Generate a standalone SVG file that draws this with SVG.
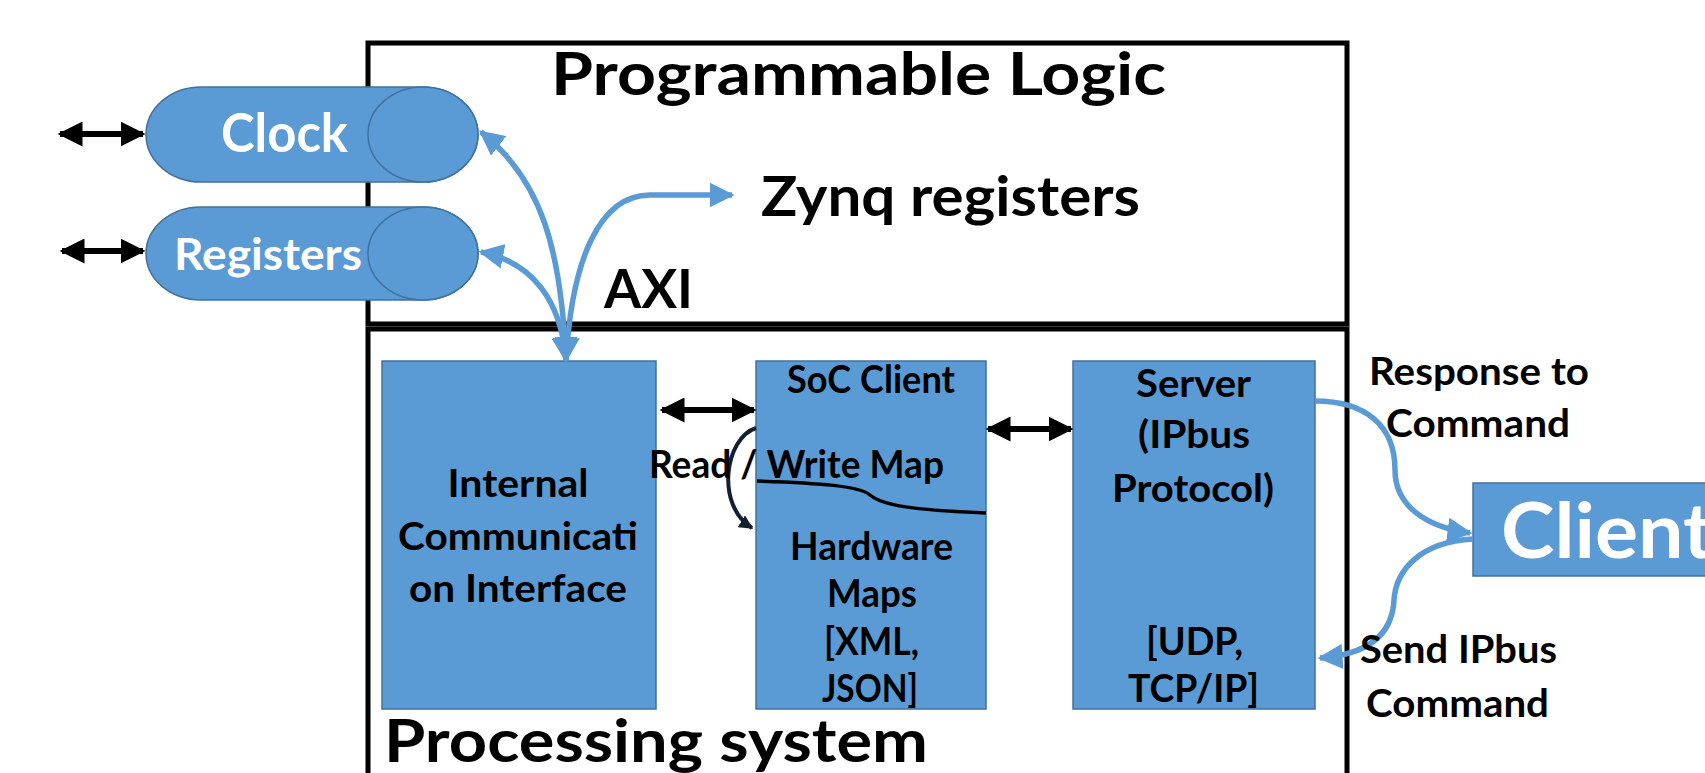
<svg xmlns="http://www.w3.org/2000/svg" width="1705" height="773" viewBox="0 0 1705 773">
<style>
text { font-family: Lato, "Open Sans", "Liberation Sans", sans-serif; font-weight: 700; fill: #000; }
text.w { fill: #fff; }
.m { text-anchor: middle; }
.t39 { font-size: 39px; }
.box { fill: #5B9BD5; stroke: #41719C; stroke-width: 1.5; }
.frame { fill: none; stroke: #000; stroke-width: 5; }
.blue { fill: none; stroke: #5B9BD5; stroke-width: 5.5; }
.barr { fill: none; stroke: #000; stroke-width: 6; }
.dark { fill: none; stroke: #15202e; stroke-width: 4; }
.sep { fill: none; stroke: #000; stroke-width: 3.5; }
</style>
<defs>
<marker id="hb" viewBox="0 0 10 10" refX="9" refY="5" markerWidth="25" markerHeight="25" markerUnits="userSpaceOnUse" orient="auto-start-reverse"><path d="M0,0 L10,5 L0,10 Z" fill="#000"/></marker>
<marker id="hl" viewBox="0 0 10 10" refX="9" refY="5" markerWidth="25" markerHeight="25" markerUnits="userSpaceOnUse" orient="auto-start-reverse"><path d="M0,0 L10,5 L0,10 Z" fill="#5B9BD5"/></marker>
<marker id="hd" viewBox="0 0 10 10" refX="9" refY="5" markerWidth="14" markerHeight="14" markerUnits="userSpaceOnUse" orient="auto"><path d="M0,0 L10,5 L0,10 Z" fill="#15202e"/></marker>
</defs>

<g id="programmable-logic">
<rect class="frame" x="368" y="43" width="979" height="281"/>
<text x="858.5" y="95" class="m" font-size="60" textLength="615" lengthAdjust="spacingAndGlyphs">Programmable Logic</text>
<text x="761" y="216" font-size="55" textLength="379" lengthAdjust="spacingAndGlyphs">Zynq registers</text>
<text x="604" y="308" font-size="53" textLength="89" lengthAdjust="spacingAndGlyphs">AXI</text>
</g>

<g id="processing-system">
<rect class="frame" x="368" y="329" width="979" height="480"/>
<text x="384" y="762" font-size="60" textLength="544" lengthAdjust="spacingAndGlyphs">Processing system</text>
</g>

<g id="clock">
<path class="box" d="M201,87 H423 A55,47.5 0 0 1 423,182 H201 A55,47.5 0 0 1 201,87 Z"/>
<ellipse class="box" cx="423" cy="134.5" rx="55" ry="47.5"/>
<text x="284.5" y="152" class="m w" font-size="53" textLength="127" lengthAdjust="spacingAndGlyphs">Clock</text>
</g>

<g id="registers">
<path class="box" d="M201,207 H423 A55,46.5 0 0 1 423,300 H201 A55,46.5 0 0 1 201,207 Z"/>
<ellipse class="box" cx="423" cy="253.5" rx="55" ry="46.5"/>
<text x="268" y="270" class="m w" font-size="44" textLength="188" lengthAdjust="spacingAndGlyphs">Registers</text>
</g>

<g id="internal-communication-interface">
<rect class="box" x="382" y="361" width="274" height="348"/>
<text x="518" y="497" class="m t39" textLength="141" lengthAdjust="spacingAndGlyphs">Internal</text>
<text x="518" y="550" class="m t39" textLength="240" lengthAdjust="spacingAndGlyphs">Communicati</text>
<text x="518" y="602" class="m t39" textLength="218" lengthAdjust="spacingAndGlyphs">on Interface</text>
</g>

<g id="soc-client">
<rect class="box" x="756" y="361" width="230" height="348"/>
<text x="871" y="393" class="m t39" textLength="168" lengthAdjust="spacingAndGlyphs">SoC Client</text>
<path class="sep" d="M757,481 C820,483 860,486 870,495 C882,505 910,510 986,513"/>
<text x="871.5" y="560" class="m t39" textLength="163" lengthAdjust="spacingAndGlyphs">Hardware</text>
<text x="872" y="607" class="m t39" textLength="90" lengthAdjust="spacingAndGlyphs">Maps</text>
<text x="871.5" y="655" class="m t39" textLength="95" lengthAdjust="spacingAndGlyphs">[XML,</text>
<text x="870" y="702" class="m t39" textLength="96" lengthAdjust="spacingAndGlyphs">JSON]</text>
</g>

<g id="server">
<rect class="box" x="1073" y="361" width="242" height="348"/>
<text x="1193.5" y="397" class="m t39" textLength="115" lengthAdjust="spacingAndGlyphs">Server</text>
<text x="1194" y="448" class="m t39" textLength="112" lengthAdjust="spacingAndGlyphs">(IPbus</text>
<text x="1193" y="502" class="m t39" textLength="162" lengthAdjust="spacingAndGlyphs">Protocol)</text>
<text x="1194.5" y="655" class="m t39" textLength="97" lengthAdjust="spacingAndGlyphs">[UDP,</text>
<text x="1193.5" y="702" class="m t39" textLength="131" lengthAdjust="spacingAndGlyphs">TCP/IP]</text>
</g>

<g id="client">
<rect class="box" x="1473" y="483" width="260" height="93"/>
<text x="1501" y="558" class="w" font-size="76" textLength="212" lengthAdjust="spacingAndGlyphs">Client</text>
</g>

<g id="connectors">
<line class="barr" x1="60" y1="134" x2="143" y2="134" marker-start="url(#hb)" marker-end="url(#hb)"/>
<line class="barr" x1="62" y1="251" x2="143" y2="251" marker-start="url(#hb)" marker-end="url(#hb)"/>
<line class="barr" x1="662" y1="410" x2="754" y2="410" marker-start="url(#hb)" marker-end="url(#hb)"/>
<line class="barr" x1="988" y1="429" x2="1071" y2="429" marker-start="url(#hb)" marker-end="url(#hb)"/>
<path class="blue" d="M566,360 C561,250 542,180 481,132" marker-start="url(#hl)" marker-end="url(#hl)"/>
<path class="blue" d="M566,360 C561,300 532,262 481,252" marker-start="url(#hl)" marker-end="url(#hl)"/>
<path class="blue" d="M566,360 C572,258 600,195 650,195 L732,195" marker-start="url(#hl)" marker-end="url(#hl)"/>
<path class="blue" d="M1315,401 C1365,401 1395,425 1395,470 C1395,505 1425,527 1470,533" marker-end="url(#hl)"/>
<path class="blue" d="M1473,539 C1420,542 1396,570 1394,600 C1392,640 1360,655 1320,658" marker-end="url(#hl)"/>
<path class="dark" d="M756,428 C725,438 715,505 752,528" marker-end="url(#hd)"/>
<text x="796.5" y="478" class="m t39" textLength="295" lengthAdjust="spacingAndGlyphs">Read / Write Map</text>
<text x="1479" y="385" class="m t39" textLength="220" lengthAdjust="spacingAndGlyphs">Response to</text>
<text x="1478" y="437" class="m t39" textLength="184" lengthAdjust="spacingAndGlyphs">Command</text>
<text x="1458.5" y="663" class="m t39" textLength="197" lengthAdjust="spacingAndGlyphs">Send IPbus</text>
<text x="1457.5" y="717" class="m t39" textLength="183" lengthAdjust="spacingAndGlyphs">Command</text>
</g>
</svg>
